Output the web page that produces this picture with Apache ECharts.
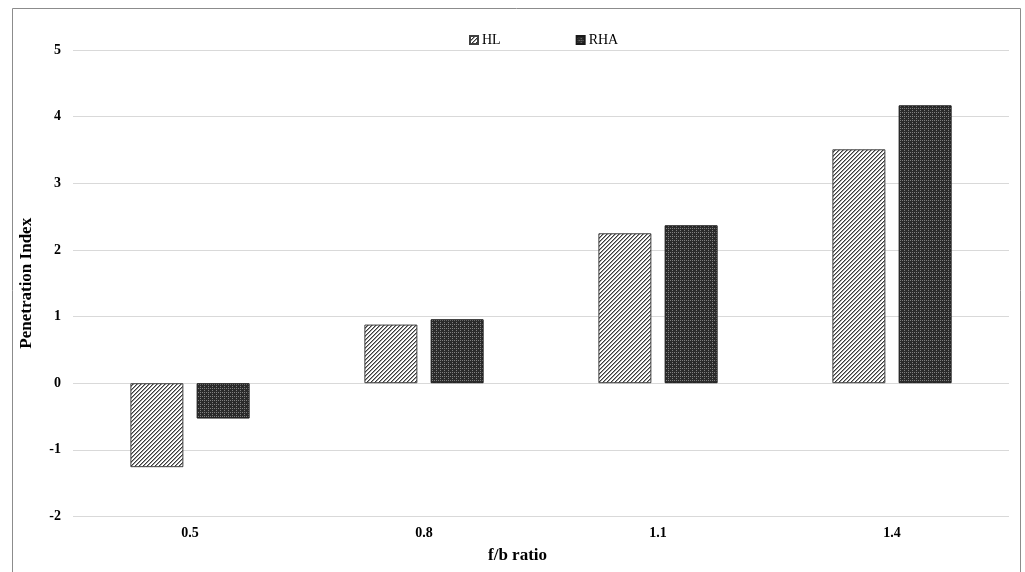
<!DOCTYPE html>
<html>
<head>
<meta charset="utf-8">
<script src="https://cdn.jsdelivr.net/npm/echarts@6/dist/echarts.min.js"></script>
<style>
  html, body { margin: 0; padding: 0; background: #fff; }
  #chart { width: 1025px; height: 572px; }
</style>
</head>
<body>
<div id="chart"></div>
<script>
// f/b ratio categories and penetration index per material
const categories = ['0.5', '0.8', '1.1', '1.4'];
const hlValues = [-1.26, 0.88, 2.25, 3.51];
const rhaValues = [-0.53, 0.96, 2.37, 4.17];
const seriesNames = ['HL', 'RHA'];

// Hatch fills built on small tiles
function makeTile(size, paint) {
  const c = document.createElement('canvas');
  c.width = size; c.height = size;
  const ctx = c.getContext('2d');
  paint(ctx, size);
  return c;
}
const hatchTile = makeTile(4, (ctx, n) => {
  ctx.fillStyle = '#ffffff';
  ctx.fillRect(0, 0, n, n);
  for (let x = 0; x < n; x++) {
    for (let y = 0; y < n; y++) {
      const k = (x + y) % n;
      if (k === 0) { ctx.fillStyle = '#3a3a3a'; ctx.fillRect(x, y, 1, 1); }
      else if (k === 1) { ctx.fillStyle = '#9a9a9a'; ctx.fillRect(x, y, 1, 1); }
    }
  }
});
const gridTile = makeTile(4, (ctx, n) => {
  ctx.fillStyle = '#2b2b2b';
  ctx.fillRect(0, 0, n, n);
  ctx.fillStyle = '#808080';
  for (let i = 0; i < n; i += 2) {
    ctx.fillRect(0, i, 1, 1);
    ctx.fillRect(i, 0, 1, 1);
  }
});

const serif = '"Liberation Serif", "DejaVu Serif", serif';
const chart = echarts.init(document.getElementById('chart'), null, { renderer: 'canvas' });

chart.setOption({
  animation: false,
  backgroundColor: '#ffffff',
  graphic: [{
    type: 'rect',
    shape: { x: 12.5, y: 8.5, width: 1008, height: 620 },
    style: { fill: 'none', stroke: '#8c8c8c', lineWidth: 1 },
    silent: true
  }],
  legend: {
    left: 469,
    top: 33,
    padding: 0,
    itemWidth: 8,
    itemHeight: 8,
    itemGap: 75,
    icon: 'rect',
    textStyle: { fontFamily: serif, fontSize: 14, color: '#000', padding: [0, 0, 0, -1] },
    data: seriesNames
  },
  grid: { left: 73, right: 16, top: 50, bottom: 55.5, containLabel: false },
  xAxis: {
    type: 'category',
    data: categories,
    axisLine: { show: false, onZero: false },
    axisTick: { show: false },
    axisLabel: { fontFamily: serif, fontWeight: 'bold', fontSize: 14, color: '#000', margin: 10 },
    name: 'f/b ratio',
    nameLocation: 'middle',
    nameGap: 31,
    nameTextStyle: { fontFamily: serif, fontWeight: 'bold', fontSize: 17, color: '#000', padding: [0, 47, 0, 0] }
  },
  yAxis: {
    type: 'value',
    min: -2,
    max: 5,
    interval: 1,
    axisLine: { show: false },
    axisTick: { show: false },
    axisLabel: { fontFamily: serif, fontWeight: 'bold', fontSize: 14, color: '#000', margin: 12 },
    splitLine: { lineStyle: { color: '#d9d9d9', width: 1 } },
    name: 'Penetration Index',
    nameLocation: 'middle',
    nameGap: 38,
    nameTextStyle: { fontFamily: serif, fontWeight: 'bold', fontSize: 17, color: '#000' }
  },
  series: [
    {
      name: seriesNames[0],
      type: 'bar',
      data: hlValues,
      barWidth: 53,
      barGap: '25%',
      itemStyle: { color: { image: hatchTile, repeat: 'repeat' }, borderColor: '#404040', borderWidth: 1 }
    },
    {
      name: seriesNames[1],
      type: 'bar',
      data: rhaValues,
      barWidth: 53,
      itemStyle: { color: { image: gridTile, repeat: 'repeat' }, borderColor: '#1a1a1a', borderWidth: 1 }
    }
  ]
});
</script>
</body>
</html>
